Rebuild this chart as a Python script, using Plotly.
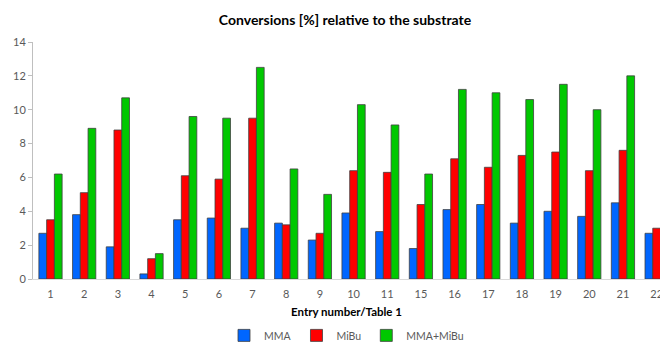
import plotly.graph_objects as go

entries = ["1", "2", "3", "4", "5", "6", "7", "8", "9", "10", "11",
           "15", "16", "17", "18", "19", "20", "21", "22"]
mma = [2.7, 3.8, 1.9, 0.3, 3.5, 3.6, 3.0, 3.3, 2.3, 3.9, 2.8,
       1.8, 4.1, 4.4, 3.3, 4.0, 3.7, 4.5, 2.7]
mibu = [3.5, 5.1, 8.8, 1.2, 6.1, 5.9, 9.5, 3.2, 2.7, 6.4, 6.3,
        4.4, 7.1, 6.6, 7.3, 7.5, 6.4, 7.6, 3.0]
mma_mibu = [6.2, 8.9, 10.7, 1.5, 9.6, 9.5, 12.5, 6.5, 5.0, 10.3, 9.1,
            6.2, 11.2, 11.0, 10.6, 11.5, 10.0, 12.0, None]

series = [("MMA", mma, "#0066FF"), ("MiBu", mibu, "#FF0000"),
          ("MMA+MiBu", mma_mibu, "#00C800")]

FONT = "Lato, 'Open Sans', sans-serif"

fig = go.Figure()
for name, vals, col in series:
    fig.add_trace(go.Bar(
        x=list(range(len(entries))), y=vals, name=name,
        marker=dict(color=col, line=dict(color="#404040", width=0.8)),
    ))

fig.update_layout(
    width=660, height=345,
    margin=dict(l=33, r=0, t=42, b=66, autoexpand=False),
    paper_bgcolor="white", plot_bgcolor="white",
    barmode="group", bargap=0.31, bargroupgap=0,
    font=dict(family=FONT, size=11, color="#595959"),
    title=dict(text="<b>Conversions [%] relative to the substrate</b>",
               x=0.4976, xanchor="center", y=0.942, yanchor="middle",
               xref="paper", yref="container",
               font=dict(family=FONT, size=14, color="#000000")),
    showlegend=True,
    legend=dict(orientation="h", x=0.5, xanchor="center", y=-0.238,
                yanchor="middle", font=dict(size=10.5, color="#595959"),
                itemwidth=30, traceorder="normal"),
    xaxis=dict(
        range=[-0.52, 18.1], tickmode="array", automargin=False,
        tickvals=list(range(len(entries))), ticktext=entries,
        showline=True, linecolor="#D9D9D9", linewidth=1,
        ticks="", showgrid=False, zeroline=False, ticklabelstandoff=5,
        ticklabeloverflow="allow",
        tickfont=dict(size=11, color="#595959"),
        title=dict(text="<b>Entry number/Table 1</b>", standoff=8,
                   font=dict(size=11.5, color="#000000")),
    ),
    yaxis=dict(
        range=[0, 14], dtick=2, showline=True, linecolor="#BFBFBF",
        linewidth=1, ticks="outside", ticklen=4, tickcolor="#BFBFBF",
        showgrid=False, zeroline=False, automargin=False,
        tickfont=dict(size=11, color="#595959"),
    ),
)

fig.write_html("out.html", config={"displayModeBar": False},
               post_script="document.body.style.margin='0';"
                           "document.body.style.overflow='hidden';")
